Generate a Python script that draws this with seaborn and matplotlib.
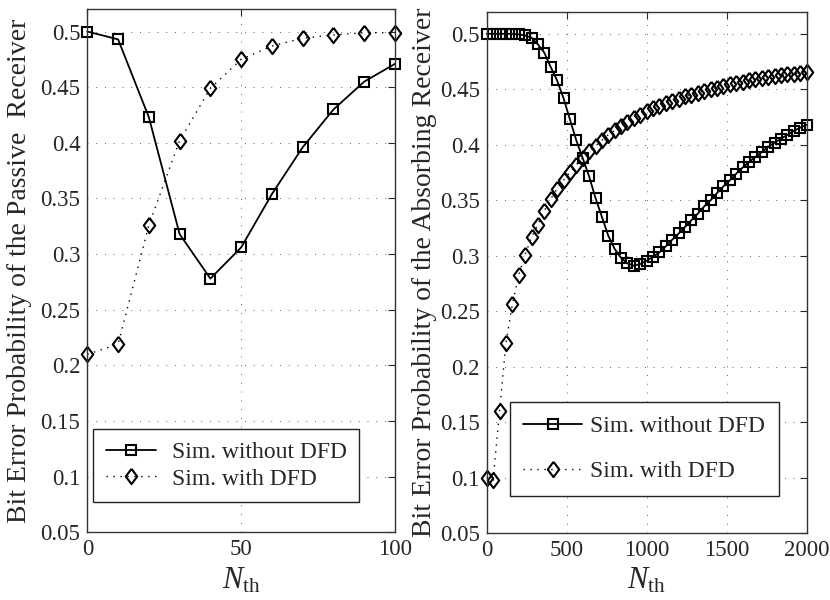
import numpy as np
import pandas as pd
import seaborn as sns
import matplotlib.pyplot as plt

# values
n_passive = [0, 10, 20, 30, 40, 50, 60, 70, 80, 90, 100]
ber_passive_no_dfd = [0.500, 0.493, 0.423, 0.318, 0.278, 0.306, 0.354, 0.396, 0.430, 0.455, 0.471]
ber_passive_dfd = [0.210, 0.219, 0.326, 0.402, 0.449, 0.475, 0.487, 0.494, 0.497, 0.499, 0.499]

n_absorb = list(range(0, 2001, 40))
ber_absorb_no_dfd = [
    0.500, 0.500, 0.500, 0.500, 0.500, 0.4995, 0.4985, 0.4965, 0.4905, 0.483,
    0.470, 0.458, 0.442, 0.423, 0.404, 0.388, 0.3715, 0.352, 0.335, 0.318,
    0.306, 0.298, 0.293, 0.291, 0.2925, 0.2955, 0.299, 0.303, 0.3085, 0.3145,
    0.320, 0.326, 0.332, 0.338, 0.3445, 0.350, 0.3565, 0.3625, 0.368, 0.374,
    0.3795, 0.3845, 0.389, 0.3935, 0.398, 0.402, 0.4055, 0.409, 0.4125, 0.4155,
    0.418,
]
ber_absorb_dfd = [
    0.100, 0.0975, 0.160, 0.221, 0.256, 0.2825, 0.301, 0.3165, 0.328, 0.3405,
    0.351, 0.3605, 0.368, 0.375, 0.382, 0.388, 0.394, 0.399, 0.404, 0.409,
    0.413, 0.417, 0.4205, 0.424, 0.427, 0.430, 0.4327, 0.435, 0.4375, 0.4395,
    0.4415, 0.4435, 0.445, 0.447, 0.4485, 0.450, 0.4515, 0.453, 0.4545, 0.4557,
    0.457, 0.458, 0.459, 0.460, 0.461, 0.462, 0.4627, 0.4635, 0.4642, 0.465,
    0.466,
]

y_ticks = [0.05, 0.1, 0.15, 0.2, 0.25, 0.3, 0.35, 0.4, 0.45, 0.5]
y_tick_labels = ['0.05', '0.1', '0.15', '0.2', '0.25', '0.3', '0.35', '0.4', '0.45', '0.5']

sns.set_style('white')
plt.rcParams['font.family'] = ['Liberation Serif', 'DejaVu Serif']
plt.rcParams['mathtext.fontset'] = 'custom'
plt.rcParams['mathtext.rm'] = 'Liberation Serif'
plt.rcParams['mathtext.it'] = 'Liberation Serif:italic'

# MATLAB-like diamond (a bit taller than wide)
diamond = [(0, 1), (0.75, 0), (0, -1), (-0.75, 0), (0, 1)]

fig = plt.figure(figsize=(8.3, 6), dpi=100)
ax1 = fig.add_axes([0.1052, 0.1128, 0.3707, 0.8717])
ax2 = fig.add_axes([0.5864, 0.1117, 0.3855, 0.8689])


def draw_panel(ax, x, y_no, y_dfd):
    sns.lineplot(x=x, y=y_no, ax=ax, color='black', linewidth=1.3,
                 marker='s', markersize=7.5, markerfacecolor='none',
                 markeredgecolor='black', markeredgewidth=1.5,
                 label='Sim. without DFD', clip_on=False)
    sns.lineplot(x=x, y=y_dfd, ax=ax, color='black', linewidth=1.0,
                 linestyle=(0, (1, 4)),
                 marker=diamond, markersize=11, markerfacecolor='none',
                 markeredgecolor='black', markeredgewidth=1.5,
                 label='Sim. with DFD', clip_on=False)
    ax.set_ylim(0.05, 0.52)
    ax.set_yticks(y_ticks)
    ax.set_yticklabels(y_tick_labels)
    ax.grid(True, color='black', linestyle=(0, (1, 8)), linewidth=0.7, alpha=0.6)
    ax.tick_params(direction='in', top=True, right=True, length=5,
                   width=0.8, labelsize=16.5, pad=5)
    for s in ax.spines.values():
        s.set_color('#333333')
        s.set_linewidth(1.0)
    ax.set_xlabel(r'$N_{\mathrm{th}}$', fontsize=22, labelpad=4)


draw_panel(ax1, n_passive, ber_passive_no_dfd, ber_passive_dfd)
ax1.set_xlim(0, 100)
ax1.set_xticks([0, 50, 100])
ax1.set_ylabel('Bit Error Probability of the Passive  Receiver', fontsize=20, labelpad=6)
ax1.legend(loc='center', bbox_to_anchor=(0.4514, 0.1277),
           fontsize=17, frameon=True, fancybox=False, edgecolor='#222222',
           framealpha=1, handlelength=2.12, handletextpad=0.68,
           borderpad=0.52, labelspacing=0.21, borderaxespad=0)

draw_panel(ax2, n_absorb, ber_absorb_no_dfd, ber_absorb_dfd)
ax2.set_xlim(0, 2000)
ax2.set_xticks([0, 500, 1000, 1500, 2000])
ax2.set_ylabel('Bit Error Probability of the Absorbing Receiver', fontsize=20, labelpad=2)
ax2.legend(loc='center', bbox_to_anchor=(0.492, 0.1615),
           fontsize=17, frameon=True, fancybox=False, edgecolor='#222222',
           framealpha=1, handlelength=2.5, handletextpad=0.34,
           borderpad=0.57, labelspacing=1.01, borderaxespad=0)

for leg in [ax1.get_legend(), ax2.get_legend()]:
    leg.get_frame().set_linewidth(1.0)

plt.savefig('out.png', dpi=100)
print("saved out.png")
